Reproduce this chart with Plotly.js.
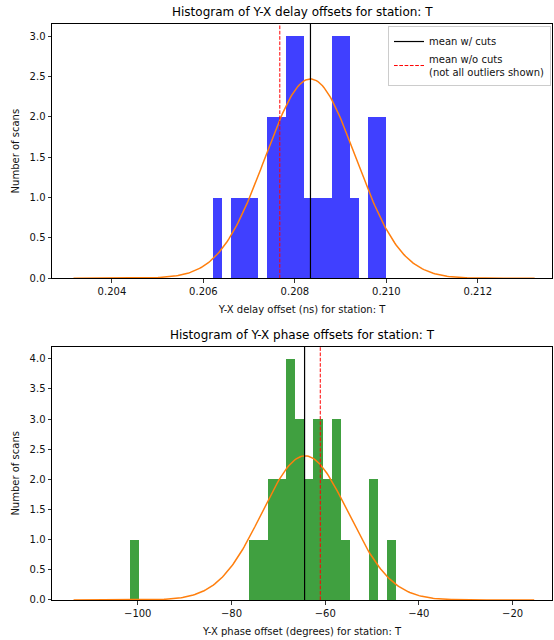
<!DOCTYPE html>
<html>
<head>
<meta charset="utf-8">
<script src="https://cdn.plot.ly/plotly-3.0.1.min.js"></script>
<style>html,body{margin:0;padding:0;background:#fff}</style>
</head>
<body>
<div id="chart" style="width:554px;height:640px"></div>
<script>
// ---- Y-X delay offsets (ns): equal-width bins and counts per bin ----
const delayBinStart = 0.2062;
const delayBinWidth = 0.0002;
const delayCounts = [1, 0, 1, 1, 1, 0, 2, 2, 3, 3, 1, 1, 1, 3, 3, 1, 0, 2, 2];
const delayMeans = [0.20834, 0.20767];          // [with cuts, without cuts]
const delayFitParams = [0.20834, 0.00099, 2.47]; // normal fit: [mean, sigma, peak]
const delayFitSpan = [0.20316, 0.21324];

// ---- Y-X phase offsets (degrees) ----
const phaseBinStart = -101.7;
const phaseBinWidth = 1.96;
const phaseCounts = [1, 0, 0, 0, 0, 0, 0, 0, 0, 0, 0, 0, 0, 1, 1, 2, 2, 4, 3, 2, 3, 2, 3, 1, 0, 0, 2, 0, 1];
const phaseMeans = [-64.4, -61.05];
const phaseFitParams = [-64.3, 9.2, 2.39];
const phaseFitSpan = [-113.7, -15.4];

// axis extents
const delayXRange = [0.20269, 0.21362];
const delayYRange = [0, 3.15];
const phaseXRange = [-118.3, -11.6];
const phaseYRange = [0, 4.2];

const FONT = 'DejaVu Sans, Liberation Sans, sans-serif';

function binCenters(start, width, counts) {
  return counts.map((_, i) => start + (i + 0.5) * width);
}

// sampled normal curve scaled to the histogram
function normalCurve(params, span, n) {
  const [mu, sigma, peak] = params;
  const xs = [], ys = [];
  for (let i = 0; i <= n; i++) {
    const x = span[0] + (span[1] - span[0]) * i / n;
    xs.push(x);
    ys.push(peak * Math.exp(-0.5 * Math.pow((x - mu) / sigma, 2)));
  }
  return {xs, ys};
}

const delayCurve = normalCurve(delayFitParams, delayFitSpan, 300);
const phaseCurve = normalCurve(phaseFitParams, phaseFitSpan, 300);

const traces = [
  {
    type: 'bar', x: binCenters(delayBinStart, delayBinWidth, delayCounts), y: delayCounts,
    width: delayBinWidth, marker: {color: 'rgba(0,0,255,0.75)', line: {width: 0}},
    xaxis: 'x', yaxis: 'y', showlegend: false, hoverinfo: 'skip'
  },
  {
    type: 'scatter', mode: 'lines', x: delayCurve.xs, y: delayCurve.ys,
    line: {color: '#ff7f0e', width: 1.5}, xaxis: 'x', yaxis: 'y', showlegend: false
  },
  {
    type: 'scatter', mode: 'lines', name: 'mean w/ cuts',
    x: [delayMeans[0], delayMeans[0]], y: delayYRange,
    line: {color: '#000000', width: 1.2}, xaxis: 'x', yaxis: 'y', showlegend: true
  },
  {
    type: 'scatter', mode: 'lines', name: 'mean w/o cuts<br>(not all outliers shown)',
    x: [delayMeans[1], delayMeans[1]], y: delayYRange,
    line: {color: '#ff0000', width: 1, dash: '3.7px,1.6px'}, xaxis: 'x', yaxis: 'y', showlegend: true
  },
  {
    type: 'bar', x: binCenters(phaseBinStart, phaseBinWidth, phaseCounts), y: phaseCounts,
    width: phaseBinWidth, marker: {color: 'rgba(0,128,0,0.75)', line: {width: 0}},
    xaxis: 'x2', yaxis: 'y2', showlegend: false, hoverinfo: 'skip'
  },
  {
    type: 'scatter', mode: 'lines', x: phaseCurve.xs, y: phaseCurve.ys,
    line: {color: '#ff7f0e', width: 1.5}, xaxis: 'x2', yaxis: 'y2', showlegend: false
  },
  {
    type: 'scatter', mode: 'lines', x: [phaseMeans[0], phaseMeans[0]], y: phaseYRange,
    line: {color: '#000000', width: 1.2}, xaxis: 'x2', yaxis: 'y2', showlegend: false
  },
  {
    type: 'scatter', mode: 'lines', x: [phaseMeans[1], phaseMeans[1]], y: phaseYRange,
    line: {color: '#ff0000', width: 1, dash: '3.7px,1.6px'}, xaxis: 'x2', yaxis: 'y2', showlegend: false
  }
];

const axisStyle = {
  showline: true, mirror: true, linecolor: '#000', linewidth: 1,
  ticks: 'outside', ticklen: 3.5, tickwidth: 0.8, tickcolor: '#000',
  showgrid: false, zeroline: false, fixedrange: true,
  tickfont: {family: FONT, size: 10, color: '#111'}
};
const titleFont = {family: FONT, size: 10, color: '#111'};

const layout = {
  width: 554, height: 640,
  margin: {l: 52, r: 2, t: 24, b: 40},
  paper_bgcolor: '#fff', plot_bgcolor: '#fff',
  bargap: 0, barmode: 'overlay',
  font: {family: FONT, size: 10, color: '#111'},
  xaxis: Object.assign({}, axisStyle, {
    anchor: 'y', domain: [0, 1], range: delayXRange, tickvals: [0.204, 0.206, 0.208, 0.210, 0.212],
    tickformat: '.3f',
    title: {text: 'Y-X delay offset (ns) for station: T', font: titleFont, standoff: 10}
  }),
  yaxis: Object.assign({}, axisStyle, {
    anchor: 'x', domain: [0.5585, 1], range: delayYRange, dtick: 0.5, tick0: 0, tickformat: '.1f',
    title: {text: 'Number of scans', font: titleFont, standoff: 8}
  }),
  xaxis2: Object.assign({}, axisStyle, {
    anchor: 'y2', domain: [0, 1], range: phaseXRange, tickvals: [-100, -80, -60, -40, -20],
    title: {text: 'Y-X phase offset (degrees) for station: T', font: titleFont, standoff: 10}
  }),
  yaxis2: Object.assign({}, axisStyle, {
    anchor: 'x2', domain: [0, 0.4398], range: phaseYRange, dtick: 0.5, tick0: 0, tickformat: '.1f',
    title: {text: 'Number of scans', font: titleFont, standoff: 8}
  }),
  legend: {
    x: 0.998, y: 0.9965, xanchor: 'right', yanchor: 'top',
    bgcolor: 'rgba(255,255,255,0.8)', bordercolor: '#cccccc', borderwidth: 1,
    font: {family: FONT, size: 10, color: '#111'}, itemwidth: 30, tracegroupgap: 2
  },
  annotations: [
    {text: 'Histogram of Y-X delay offsets for station: T', xref: 'paper', yref: 'paper',
     x: 0.5, y: 1.0200, xanchor: 'center', yanchor: 'middle', showarrow: false,
     font: {family: FONT, size: 12, color: '#000'}},
    {text: 'Histogram of Y-X phase offsets for station: T', xref: 'paper', yref: 'paper',
     x: 0.5, y: 0.4601, xanchor: 'center', yanchor: 'middle', showarrow: false,
     font: {family: FONT, size: 12, color: '#000'}}
  ]
};

Plotly.newPlot('chart', traces, layout, {displayModeBar: false, staticPlot: true});
</script>
</body>
</html>
